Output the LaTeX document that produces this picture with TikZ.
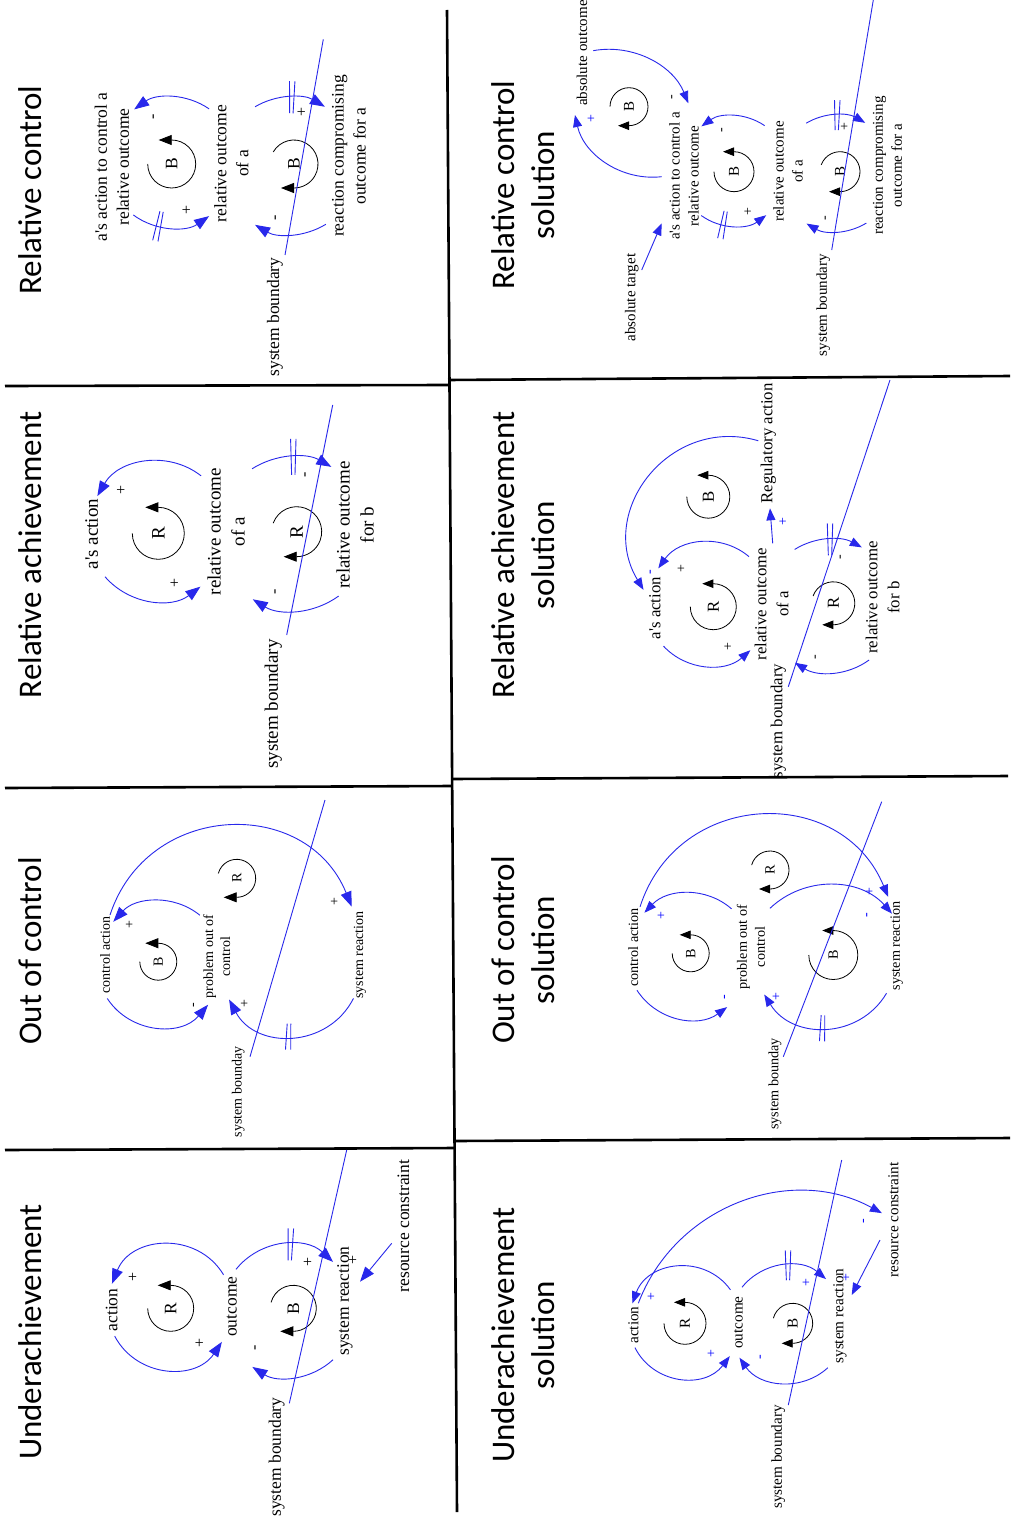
\documentclass[tikz,border=0pt]{standalone}
\usepackage{fontspec}
\setmainfont{Liberation Serif}
\newfontfamily\titlefont{Carlito}
\usetikzlibrary{calc,arrows.meta}
\definecolor{lblue}{RGB}{40,40,235}
\newcommand\apo{\textquotesingle}
\tikzset{
 sep/.style={line width=2.6pt, black},
 ttl/.style={rotate=90, align=center, inner sep=0pt, font=\titlefont\fontsize{33}{40}\selectfont},
 lab/.style={rotate=90, align=center, inner sep=0pt, font=\fontsize{\lsz}{\lsk}\selectfont},
 looplet/.style={rotate=90, inner sep=0pt, font=\fontsize{\lsz}{\lsk}\selectfont},
 sgn/.style={rotate=90, inner sep=0pt, font=\fontsize{\ssz}{\ssz}\selectfont},
 sgnb/.style={sgn, text=blue},
 link/.style={draw=lblue, line width=0.9pt, -{Triangle[length=15pt,width=11pt]}},
 loopline/.style={draw=black, line width=0.8pt, -{Triangle[length=13pt,width=10pt]}, shorten >=-13pt},
 dline/.style={draw=lblue, line width=0.9pt},
 bnd/.style={draw=lblue, line width=0.9pt},
 small/.style={link/.append style={-{Triangle[length=12pt,width=9pt]}},
               loopline/.append style={-{Triangle[length=11pt,width=8.5pt]}, shorten >=-11pt}},
}
% connector along a circle: name, cx, cy(screen), r, start angle, end angle
\newcommand\conn[6]{%
  \coordinate (#1s) at ($(#2,-#3)+(#5:#4)$);
  \coordinate (#1e) at ($(#2,-#3)+(#6:#4)$);
  \pgfmathsetmacro\cphi{abs(#6-#5)}%
  \pgfmathsetmacro\chalf{\cphi/2}%
  \pgfmathsetmacro\cloose{(4/3)*tan(\cphi/4)/(2*sin(\cphi/2))/0.3915}%
  \ifdim #6pt>#5pt
    \draw[link] (#1s) to[bend right=\chalf, looseness=\cloose] (#1e);
  \else
    \draw[link] (#1s) to[bend left=\chalf, looseness=\cloose] (#1e);
  \fi
}
% loop symbol: name, cx, cy, r, start, end, letter
\newcommand\lsym[7]{%
  \node[looplet] (#1) at (#2,-#3) {#7};
  \draw[loopline] ($(#2,-#3)+(#5:#4)$) arc[start angle=#5, end angle=#6, radius=#4];
}
% delay mark: cx, cy, r, angle, half length
\newcommand\delay[5]{%
  \pgfmathsetmacro\dd{2.2/#3*57.2958}%
  \draw[dline] ($(#1,-#2)+({#4-\dd}:{#3-#5})$) -- ($(#1,-#2)+({#4-\dd}:{#3+#5})$);
  \draw[dline] ($(#1,-#2)+({#4+\dd}:{#3-#5})$) -- ($(#1,-#2)+({#4+\dd}:{#3+#5})$);
}
\begin{document}
\begin{tikzpicture}[x=1pt,y=1pt]
\fill[white] (0,0) rectangle (1012,-1517);
\useasboundingbox (0,0) rectangle (1012,-1517);

% grid
\draw[sep] (447,-10) -- (457,-1512);
\draw[sep] (5,-386) -- (448,-385);
\draw[sep] (448,-380) -- (1010,-376);
\draw[sep] (5,-788) -- (452,-786);
\draw[sep] (452,-779) -- (1008,-776);
\draw[sep] (5,-1150) -- (455,-1148);
\draw[sep] (455,-1141) -- (1010,-1138);

% titles
\node[ttl,anchor=base] (tA) at (41.7,-190) {Relative control};
\node[ttl,anchor=base] (tC) at (41.7,-555) {Relative achievement};
\node[ttl,anchor=base] (tE) at (41.7,-951) {Out of control};
\node[ttl,anchor=base] (tG) at (41.7,-1332) {Underachievement};
\node[ttl] (tB) at (523.5,-185) {Relative control\\solution};
\node[ttl] (tD) at (523.5,-555) {Relative achievement\\solution};
\node[ttl] (tF) at (523.5,-950) {Out of control\\solution};
\node[ttl] (tH) at (523.5,-1335) {Underachievement\\solution};

% ---------- Panel A: Relative control
\begin{scope}
\def\lsz{17.5}\def\lsk{22}\def\ssz{16}
\node[lab] (Aact) at (112,-167) {a\apo s action to control a\\relative outcome};
\node[lab] (Arel) at (231.5,-163.5) {relative outcome\\of a};
\node[lab] (Area) at (349,-156) {reaction compromising\\outcome for a};
\node[lab] (Asb) at (275,-317) {system boundary};
\conn{Aa}{172}{162.5}{65.2}{55.3}{125.5}
\conn{Ab}{172}{162.5}{65.2}{233.6}{304.7}
\conn{Ac}{290}{165.8}{68.6}{120.6}{59.4}
\conn{Ad}{290}{165.8}{68.6}{301.5}{239.4}
\delay{172}{162.5}{65.2}{258}{15}
\delay{290}{165.8}{68.6}{88.5}{16}
\node[sgn] (As1) at (187,-210) {+};
\node[sgn] (As2) at (155,-117) {-};
\node[sgn] (As3) at (302,-112) {+};
\node[sgn] (As4) at (277,-218) {-};
\lsym{AL1}{171.7}{164}{24}{180}{450}{B}
\lsym{AL2}{294}{164}{24}{150}{-90}{B}
\coordinate (Ab1) at (285,-255); \coordinate (Ab2) at (323.3,-39.3);
\draw[bnd] (Ab1) -- (Ab2);
\end{scope}

% ---------- Panel B: Relative control solution
\begin{scope}[small]
\def\lsz{15}\def\lsk{19}\def\ssz{14}
\node[lab] (Babo) at (582,-53) {absolute outcome};
\node[lab] (Bact) at (684,-176) {a\apo s action to control a\\relative outcome};
\node[lab] (Brel) at (788,-171.5) {relative outcome\\of a};
\node[lab] (Brea) at (887.5,-165.5) {reaction compromising\\outcome for a};
\node[lab] (Bsb) at (823.3,-305) {system boundary};
\node[lab] (Btgt) at (631.7,-297.5) {absolute target};
\conn{Ba}{608.5}{135.3}{86}{100.2}{21.9}
\conn{Bb}{652.7}{97.5}{79.7}{276.5}{192.7}
\conn{Bc}{733.5}{171}{55}{55.6}{125.7}
\conn{Bd}{733.5}{171}{55}{234.1}{306.5}
\conn{Be}{836}{173.3}{58.3}{120.7}{59.9}
\conn{Bf}{836}{173.3}{58.3}{301.3}{239.6}
\coordinate (Bt1) at (641.7,-270); \coordinate (Bt2) at (661.7,-223.3);
\draw[link] (Bt1) -- (Bt2);
\delay{733.5}{171}{55}{259}{14}
\delay{836}{173.3}{58.3}{89}{15}
\node[sgnb] (Bs1) at (591.7,-118.3) {+};
\node[sgn] (Bs2) at (673.3,-96.7) {-};
\node[sgn] (Bs3) at (748.3,-211.7) {+};
\node[sgn] (Bs4) at (723.3,-130) {-};
\node[sgn] (Bs5) at (845,-126.7) {+};
\node[sgn] (Bs6) at (826.7,-218.3) {-};
\lsym{BL1}{629}{106.7}{19}{180}{-90}{B}
\lsym{BL2}{734}{171.7}{20}{180}{450}{B}
\lsym{BL3}{840}{171.7}{20}{160}{-90}{B}
\coordinate (Bb1) at (831.7,-250); \coordinate (Bb2) at (873.3,0);
\draw[bnd] (Bb1) -- (Bb2);
\end{scope}

% ---------- Panel C: Relative achievement
\begin{scope}
\def\lsz{19}\def\lsk{24}\def\ssz{16}
\node[lab] (Cact) at (91.7,-534) {a\apo s action};
\node[lab] (Crel) at (226,-531.7) {relative outcome\\of a};
\node[lab] (Crob) at (355,-525) {relative outcome\\for b};
\node[lab] (Csb) at (273.3,-704) {system boundary};
\conn{Ca}{158}{531}{70}{52}{150.1}
\conn{Cb}{158}{531}{70}{220.8}{307.3}
\conn{Cc}{293.3}{533.8}{77}{122.4}{60.4}
\conn{Cd}{293.3}{533.8}{77}{306.1}{238.2}
\delay{293.3}{533.8}{77}{90}{18}
\node[sgn] (Cs1) at (121.7,-490) {+};
\node[sgn] (Cs2) at (175,-583.3) {+};
\node[sgn] (Cs3) at (306.7,-475) {-};
\node[sgn] (Cs4) at (276.7,-591.7) {-};
\lsym{CL1}{158.3}{533.3}{26}{180}{450}{R}
\lsym{CL2}{296.7}{531.7}{25}{160}{-90}{R}
\coordinate (Cb1) at (286.7,-635); \coordinate (Cb2) at (332.7,-405);
\draw[bnd] (Cb1) -- (Cb2);
\end{scope}

% ---------- Panel D: Relative achievement solution
\begin{scope}[small]
\def\lsz{16.8}\def\lsk{22}\def\ssz{14}
\node[lab] (Dreg) at (768.3,-443.3) {Regulatory action};
\node[lab] (Dact) at (655,-608) {a\apo s action};
\node[lab] (Drel) at (771.7,-604) {relative outcome\\of a};
\node[lab] (Drob) at (882.5,-597.5) {relative outcome\\for b};
\node[lab] (Dsb) at (778.3,-721) {system boundary};
\conn{D0}{730}{537.7}{101}{73.7}{211.1}
\coordinate (Dr1) at (772.7,-543.3); \coordinate (Dr2) at (770,-508.3);
\draw[link] (Dr1) -- (Dr2);
\conn{Da}{709}{604}{62}{49.8}{144.9}
\conn{Db}{709}{604}{62}{222.8}{311.8}
\conn{Dc}{830}{606}{66.7}{122}{61.5}
\conn{Dd}{830}{606}{66.7}{305.9}{238.3}
\delay{830}{606}{66.7}{90}{16}
\node[sgnb] (Ds1) at (783.3,-521.7) {+};
\node[sgnb] (Ds2) at (651.7,-571.7) {-};
\node[sgn] (Ds3) at (681.7,-568.3) {+};
\node[sgn] (Ds4) at (728.3,-646.7) {+};
\node[sgn] (Ds5) at (841.7,-556.7) {-};
\node[sgn] (Ds6) at (816.7,-656.7) {-};
\lsym{DL1}{713.3}{606.7}{23}{180}{450}{R}
\lsym{DL2}{708.3}{496.7}{21.5}{180}{450}{B}
\lsym{DL3}{833.3}{603.3}{21.5}{160}{-90}{R}
\coordinate (Db1) at (788.3,-686.7); \coordinate (Db2) at (890,-380);
\draw[bnd] (Db1) -- (Db2);
\end{scope}

% ---------- Panel E: Out of control
\begin{scope}
\def\lsz{14}\def\lsk{17}\def\ssz{14}
\node[lab] (Eca) at (105,-955) {control action};
\node[lab] (Epo) at (216.7,-956.5) {problem out of\\control};
\node[lab] (Esr) at (360,-955) {system reaction};
\node[lab] (Esb) at (238.3,-1092) {system bounday};
\conn{Ea}{160}{964}{63}{50.8}{137.9}
\conn{Eb}{160}{964}{63}{213.2}{319.7}
\conn{Ec}{232.4}{955.1}{128.8}{161.9}{22.1}
\conn{Ed}{291}{966.6}{70.1}{333}{208}
\delay{291}{966.6}{70.1}{268}{13}
\node[sgn] (Es1) at (130,-925) {+};
\node[sgn] (Es2) at (195,-1005) {-};
\node[sgn] (Es3) at (335,-901.7) {+};
\node[sgn] (Es4) at (245,-1003.3) {+};
\lsym{EL1}{158.3}{961.7}{18.5}{180}{450}{B}
\lsym{EL2}{236.7}{878.3}{19}{165}{-90}{R}
\coordinate (Eb1) at (250,-1056.7); \coordinate (Eb2) at (325,-800);
\draw[bnd] (Eb1) -- (Eb2);
\end{scope}

% ---------- Panel F: Out of control solution
\begin{scope}[small]
\def\lsz{14.2}\def\lsk{18}\def\ssz{14}
\node[lab] (Fca) at (633.3,-947.5) {control action};
\node[lab] (Fpo) at (751,-947) {problem out of\\control};
\node[lab] (Fsr) at (896.7,-946) {system reaction};
\node[lab] (Fsb) at (775,-1084) {system bounday};
\conn{Fa}{690}{956.2}{63}{48.8}{136.4}
\conn{Fb}{690}{956.2}{63}{212.7}{306.1}
\conn{Fc}{765.9}{947.2}{132.2}{162.2}{22.4}
\conn{Fd}{828.4}{969.9}{84.9}{133.5}{41.5}
\conn{Fe}{825}{956.8}{71.5}{329.4}{211.8}
\delay{825}{956.8}{71.5}{268}{13}
\node[sgnb] (Fs1) at (661.7,-916) {+};
\node[sgnb] (Fs2) at (726,-996.7) {-};
\node[sgnb] (Fs3) at (870,-891.7) {+};
\node[sgnb] (Fs4) at (776.7,-996.7) {+};
\node[sgnb] (Fs5) at (868.3,-915) {-};
\lsym{FL1}{690.7}{953.3}{18.5}{180}{450}{B}
\lsym{FL2}{770}{870}{19}{165}{-90}{R}
\lsym{FL3}{833.3}{955}{24.5}{180}{450}{B}
\coordinate (Fb1) at (783.3,-1056.7); \coordinate (Fb2) at (881.7,-801.7);
\draw[bnd] (Fb1) -- (Fb2);
\end{scope}

% ---------- Panel G: Underachievement
\begin{scope}
\def\lsz{17.5}\def\lsk{22}\def\ssz{16}
\node[lab] (Gact) at (111.7,-1310) {action};
\node[lab] (Gout) at (231.7,-1306.7) {outcome};
\node[lab] (Gsr) at (345,-1301) {system reaction};
\node[lab] (Grc) at (403.3,-1226) {resource constraint};
\node[lab] (Gsb) at (276.7,-1457) {system boundary};
\conn{Ga}{170}{1307}{62.5}{31}{158.2}
\conn{Gb}{170}{1307}{62.5}{207.7}{326.1}
\conn{Gc}{288}{1310.8}{66.5}{141.5}{47.3}
\conn{Gd}{288}{1310.8}{66.5}{312.6}{237.6}
\coordinate (Gr1) at (391.7,-1243.3); \coordinate (Gr2) at (360,-1281.7);
\draw[link] (Gr1) -- (Gr2);
\delay{288}{1310.8}{66.5}{88}{16}
\node[sgn] (Gs1) at (133.3,-1276.7) {+};
\node[sgn] (Gs2) at (200,-1343.3) {+};
\node[sgn] (Gs3) at (308.3,-1261.7) {+};
\node[sgn] (Gs4) at (256.7,-1348.3) {-};
\node[sgn] (Gs5) at (353.3,-1260) {+};
\lsym{GL1}{170.7}{1308.3}{23}{180}{450}{R}
\lsym{GL2}{293.3}{1308.3}{23}{165}{-90}{B}
\coordinate (Gb1) at (289.3,-1403.3); \coordinate (Gb2) at (346.7,-1150);
\draw[bnd] (Gb1) -- (Gb2);
\end{scope}

% ---------- Panel H: Underachievement solution
\begin{scope}[small]
\def\lsz{15.2}\def\lsk{19}\def\ssz{14}
\node[lab] (Hact) at (633.3,-1325) {action};
\node[lab] (Hout) at (738.3,-1322.5) {outcome};
\node[lab] (Hsr) at (840,-1316) {system reaction};
\node[lab] (Hrc) at (893.3,-1220) {resource constraint};
\node[lab] (Hsb) at (778.3,-1457) {system boundary};
\conn{Ha}{685}{1322.5}{56}{35.8}{160.1}
\conn{Hb}{685}{1322.5}{56}{206.6}{323.1}
\conn{Hc}{788}{1324.2}{59}{141.2}{49.9}
\conn{Hd}{788}{1324.2}{59}{312.4}{214.6}
\conn{He}{799.4}{1364.4}{172.3}{159.2}{61.4}
\coordinate (Hr1) at (880,-1240); \coordinate (Hr2) at (851.7,-1295);
\draw[link] (Hr1) -- (Hr2);
\delay{788}{1324.2}{59}{90}{15}
\node[sgnb] (Hs1) at (651.7,-1296.7) {+};
\node[sgnb] (Hs2) at (711.7,-1353.3) {+};
\node[sgnb] (Hs3) at (806.7,-1282.7) {+};
\node[sgnb] (Hs4) at (761.7,-1357.3) {-};
\node[sgnb] (Hs5) at (846.7,-1277.3) {+};
\node[sgnb] (Hs6) at (865,-1220.7) {-};
\lsym{HL1}{685}{1323.3}{21}{180}{450}{R}
\lsym{HL2}{792.7}{1323.3}{20}{165}{-90}{B}
\coordinate (Hb1) at (788.3,-1405); \coordinate (Hb2) at (841.7,-1160);
\draw[bnd] (Hb1) -- (Hb2);
\end{scope}
\end{tikzpicture}
\end{document}
